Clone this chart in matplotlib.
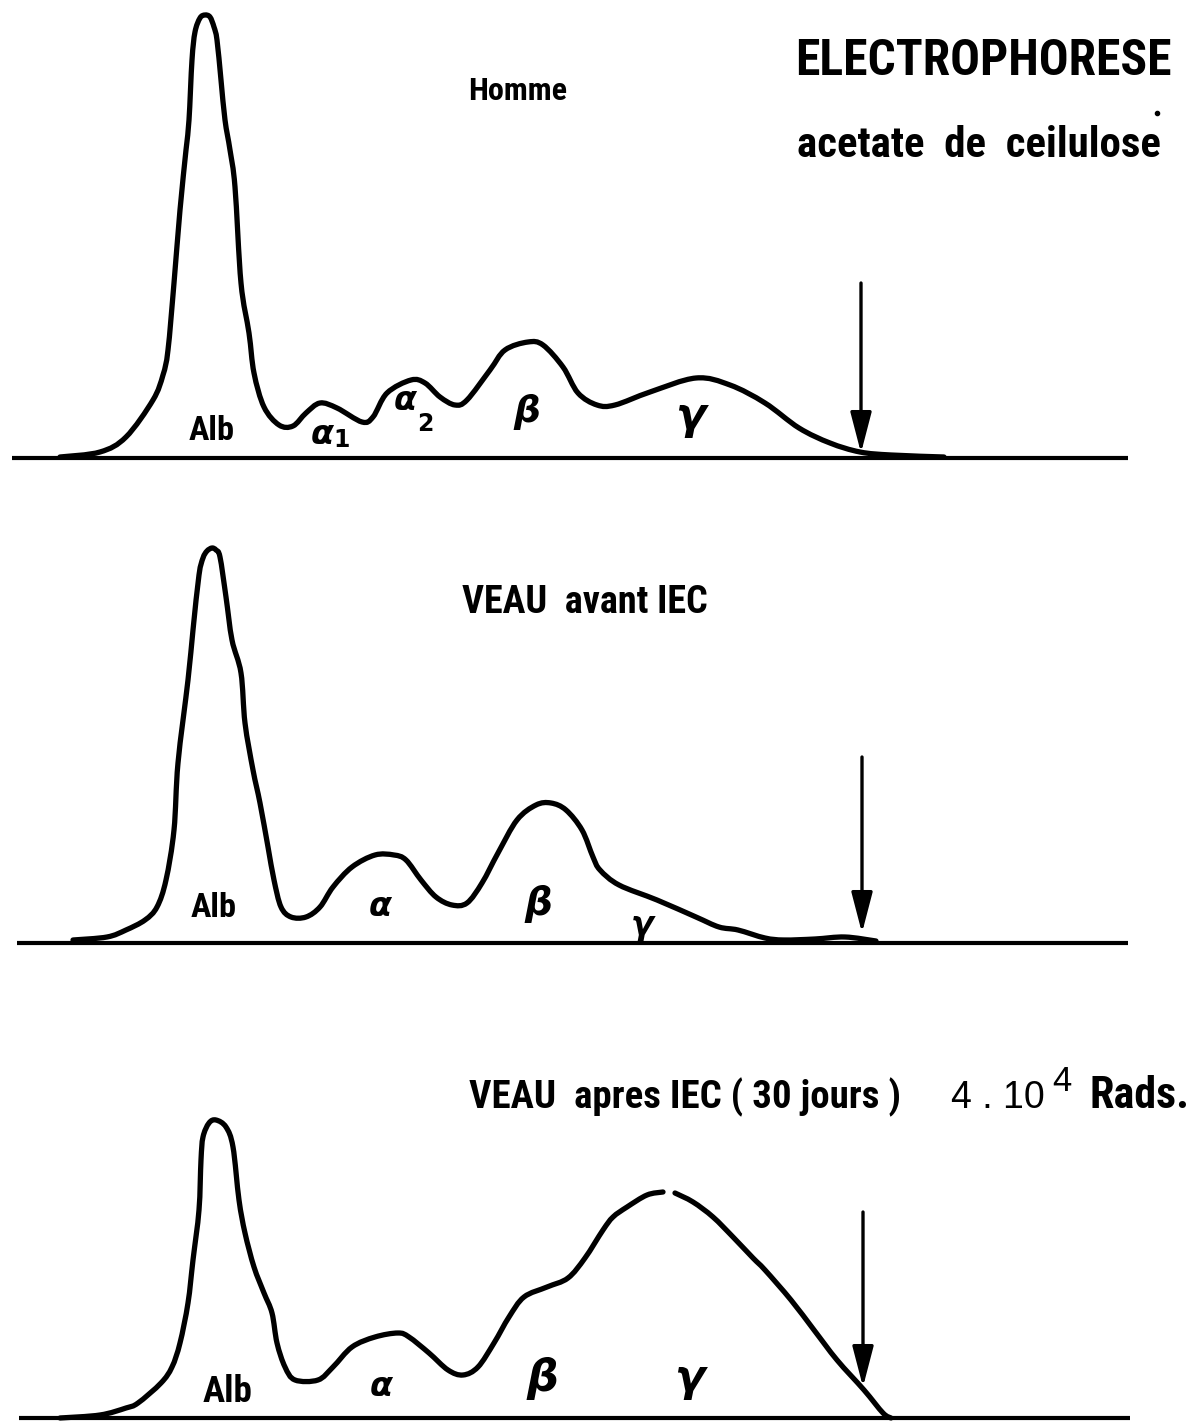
import numpy as np
import matplotlib
matplotlib.use("Agg")
import matplotlib.pyplot as plt
from matplotlib import font_manager as fm
from matplotlib.path import Path
from matplotlib.patches import PathPatch

W, H = 1193, 1428

# ---------------- data ----------------
# position along the strip (px) and pen position of the trace (px from top)
homme_x = [60, 100, 126, 153, 163, 168, 174, 180, 186, 189, 192, 195, 200, 205, 210,
           214, 217, 221, 225, 230, 235, 241, 249, 254, 264, 279, 293, 306, 320, 337,
           362, 373, 387, 411, 425, 440, 455, 467, 490, 505, 528, 543, 563, 578, 597,
           615, 650, 696, 730, 765, 799, 830, 860, 891, 944]
homme_y = [457, 452, 437, 400, 375, 350, 283, 210, 150, 120, 60, 32, 18, 15, 17,
           27, 40, 80, 120, 150, 187, 283, 333, 373, 407, 425, 426, 413, 403, 408,
           422, 417, 393, 380, 383, 397, 405, 400, 370, 350, 342, 345, 367, 393, 405,
           405, 392, 378, 385, 403, 428, 443, 452, 455, 457]

avant_x = [73, 107, 126, 145, 157, 166, 174, 178, 188, 193, 199, 203, 207, 212, 216,
           220, 226, 232, 241, 245, 253, 260, 268, 274, 281, 291, 306, 320, 333, 352,
           375, 394, 406, 421, 436, 452, 467, 482, 498, 517, 536, 551, 566, 582, 593,
           600, 619, 657, 696, 719, 738, 765, 784, 815, 845, 876]
avant_y = [940, 937, 930, 920, 907, 880, 830, 763, 680, 630, 575, 558, 551, 548, 550,
           557, 597, 640, 673, 723, 770, 803, 847, 880, 907, 917, 917, 907, 887, 867,
           855, 855, 860, 880, 897, 905, 903, 883, 853, 820, 805, 803, 810, 830, 857,
           870, 885, 900, 917, 927, 930, 938, 940, 939, 937, 941]

# the "apres" trace has a short pen lift at the top of the gamma peak (NaN)
apres_x = [60, 100, 126, 138, 161, 172, 180, 188, 193, 199, 201, 203, 209, 216, 226,
           233, 239, 245, 254, 264, 272, 277, 285, 295, 318, 333, 352, 375, 398, 409,
           429, 448, 463, 478, 494, 509, 524, 547, 568, 585, 603, 613, 627, 647, 663,
           667, 675, 693, 713, 733, 753, 765, 791, 814, 837, 864, 883, 891]
apres_y = [1418, 1415, 1408, 1403, 1383, 1367, 1343, 1303, 1260, 1210, 1160, 1137, 1123, 1120, 1127,
           1147, 1200, 1233, 1267, 1293, 1313, 1343, 1367, 1380, 1380, 1367, 1347, 1337, 1333, 1337,
           1353, 1370, 1375, 1367, 1343, 1317, 1297, 1287, 1278, 1258, 1230, 1217, 1207, 1195, 1192,
           np.nan, 1193, 1202, 1217, 1237, 1258, 1270, 1300, 1330, 1360, 1390, 1413, 1418]

baselines_y = [458, 943, 1418]
baselines_x0 = [12, 17, 19]
baselines_x1 = [1128, 1128, 1130]

arrow_x = [861, 862, 863]
arrow_top = [283, 757, 1212]
arrow_tip = [453, 933, 1387]

# ---------------- figure ----------------
fig = plt.figure(figsize=(W / 100, H / 100), dpi=100)
fig.patch.set_facecolor("white")
ax = fig.add_axes([0, 0, 1, 1])
ax.set_xlim(0, W)
ax.set_ylim(H, 0)
ax.axis("off")
renderer = fig.canvas.get_renderer()

names = {f.name for f in fm.fontManager.ttflist}
cond_family = None
cond_stretch = "normal"
for cand in ["Liberation Sans Narrow", "Roboto Condensed", "Open Sans Condensed"]:
    if cand in names:
        cond_family = cand
        break
if cond_family is None:
    if any(f.name == "DejaVu Sans" and "ondensed" in str(f.stretch) for f in fm.fontManager.ttflist):
        cond_family, cond_stretch = "DejaVu Sans", "condensed"
    else:
        cond_family = "Liberation Sans" if "Liberation Sans" in names else "DejaVu Sans"
reg_family = "Liberation Sans" if "Liberation Sans" in names else "DejaVu Sans"


def fit_text(s, x0, x1, ybase, family=None, weight="bold", stretch=None, size0=20):
    t = ax.text(x0, ybase, s, fontsize=size0,
                family=family or cond_family, fontweight=weight,
                fontstretch=stretch or cond_stretch,
                ha="left", va="baseline", color="black")
    w = t.get_window_extent(renderer).width
    t.set_fontsize(size0 * (x1 - x0) / w)
    return t


def smooth_trace(xs, ys, lw):
    """Draw a trace as a smooth curve passing through the read points."""
    xs = np.asarray(xs, float)
    ys = np.asarray(ys, float)
    ok = ~np.isnan(ys)
    segs, cur = [], []
    for i in range(len(xs)):
        if ok[i]:
            cur.append((xs[i], ys[i]))
        else:
            if cur:
                segs.append(cur)
            cur = []
    if cur:
        segs.append(cur)
    for seg in segs:
        P = np.array(seg)
        n = len(P)
        verts = [P[0]]
        codes = [Path.MOVETO]
        for i in range(n - 1):
            p0 = P[i - 1] if i > 0 else P[i]
            p1, p2 = P[i], P[i + 1]
            p3 = P[i + 2] if i + 2 < n else P[i + 1]
            c1 = p1 + (p2 - p0) / 6.0
            c2 = p2 - (p3 - p1) / 6.0
            verts += [c1, c2, p2]
            codes += [Path.CURVE4] * 3
        ax.add_patch(PathPatch(Path(verts, codes), fill=False, lw=lw, ec="black",
                               capstyle="round", joinstyle="round"))


LW = 3.8
for xs, ys in [(homme_x, homme_y), (avant_x, avant_y), (apres_x, apres_y)]:
    smooth_trace(xs, ys, LW)

for y, x0, x1 in zip(baselines_y, baselines_x0, baselines_x1):
    ax.plot([x0, x1], [y, y], color="black", lw=3.0, solid_capstyle="butt")

for x, t0, t1 in zip(arrow_x, arrow_top, arrow_tip):
    ax.annotate("", xy=(x, t1), xytext=(x, t0),
                arrowprops=dict(arrowstyle="-|>,head_length=1.0,head_width=0.26",
                                lw=2.4, color="black", mutation_scale=25,
                                shrinkA=0, shrinkB=0))

# ---------------- titles ----------------
fit_text("ELECTROPHORESE", 795, 1172, 75)
fit_text("acetate  de  ceilulose", 797, 1160, 157, weight="bold")
ax.plot([1157], [113], marker="o", ms=3, color="black")
fit_text("Homme", 468, 567, 100)
fit_text("VEAU  avant IEC", 462, 708, 613)
fit_text("VEAU  apres IEC ( 30 jours )", 469, 900, 1108)
ax.text(951, 1108, "4 . 10", fontsize=27, family=reg_family, ha="left", va="baseline",
        color="black")
ax.text(1052, 1091, "4", fontsize=25, family=reg_family, ha="left", va="baseline",
        color="black")
fit_text("Rads.", 1090, 1190, 1108)

# ---------------- fraction labels ----------------
fit_text("Alb", 189, 235, 440)
fit_text("Alb", 191, 237, 917)
fit_text("Alb", 203, 253, 1402)

gk = dict(color="black", family="DejaVu Sans", fontstyle="italic", fontweight="bold")
# panel 1 (Homme)
ax.text(322, 434, "α", fontsize=24, ha="center", va="center", **gk)
ax.text(342, 440, "1", fontsize=17, ha="center", va="center", color="black",
        family="DejaVu Sans", fontweight="bold")
ax.text(405, 400, "α", fontsize=24, ha="center", va="center", **gk)
ax.text(425, 424, "2", fontsize=17, ha="center", va="center", color="black",
        family="DejaVu Sans", fontweight="bold")
ax.text(527, 412, "β", fontsize=27, ha="center", va="center", **gk)
ax.text(690, 416, "γ", fontsize=32, ha="center", va="center", **gk)
# panel 2 (VEAU avant)
ax.text(380, 906, "α", fontsize=24, ha="center", va="center", **gk)
ax.text(538, 904, "β", fontsize=28, ha="center", va="center", **gk)
ax.text(642, 926, "γ", fontsize=24, ha="center", va="center", **gk)
# panel 3 (VEAU apres)
ax.text(381, 1387, "α", fontsize=24, ha="center", va="center", **gk)
ax.text(542, 1378, "β", fontsize=32, ha="center", va="center", **gk)
ax.text(689, 1378, "γ", fontsize=32, ha="center", va="center", **gk)

fig.savefig("out.png", dpi=100, facecolor="white")
